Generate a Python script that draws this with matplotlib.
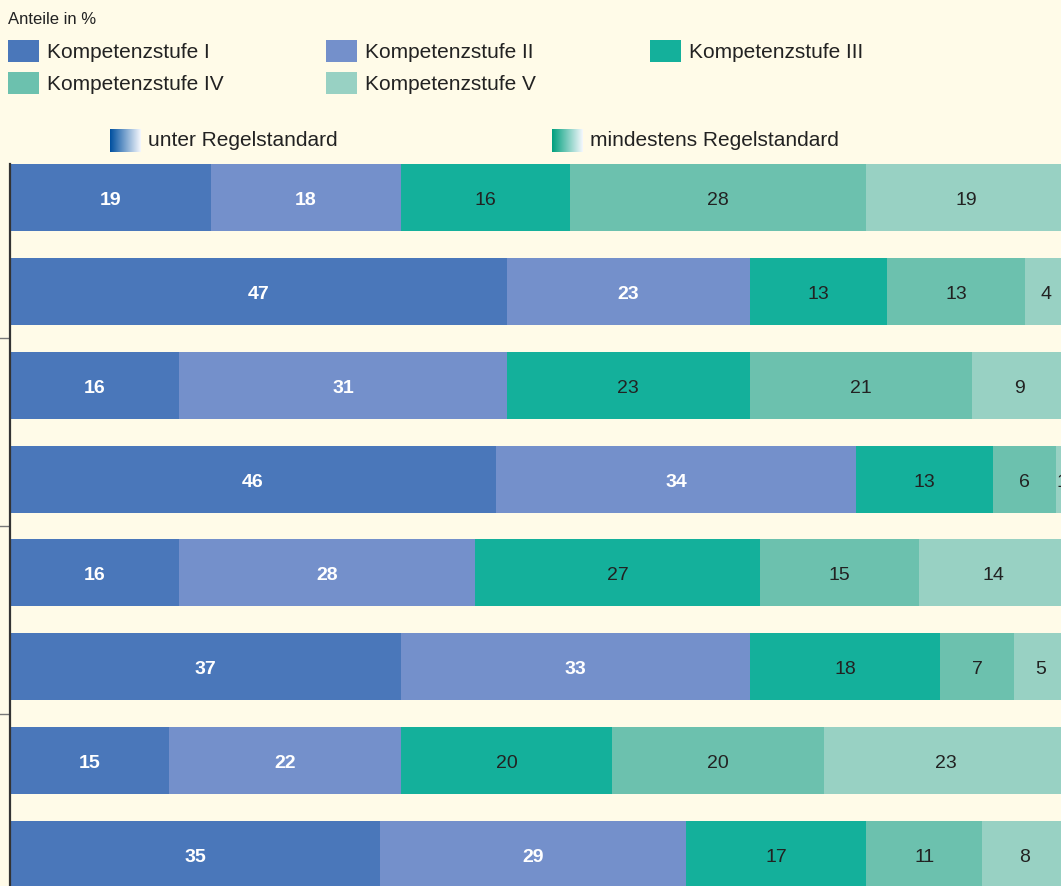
import numpy as np
import matplotlib.pyplot as plt
from matplotlib.patches import Rectangle

plt.rcParams['font.family'] = ['Liberation Sans', 'DejaVu Sans']

# Daten (Anteile in %), von oben nach unten
stufen = ['Kompetenzstufe I', 'Kompetenzstufe II', 'Kompetenzstufe III',
          'Kompetenzstufe IV', 'Kompetenzstufe V']
stufe_1 = [19, 47, 16, 46, 16, 37, 15, 35]
stufe_2 = [18, 23, 31, 34, 28, 33, 22, 29]
stufe_3 = [16, 13, 23, 13, 27, 18, 20, 17]
stufe_4 = [28, 13, 21, 6, 15, 7, 20, 11]
stufe_5 = [19, 4, 9, 1, 14, 5, 23, 8]

farben = ['#4a77ba', '#7490cb', '#14b09b', '#6cc1ae', '#98d1c3']
bg = '#fffbe8'

W, H = 1061, 887
fig = plt.figure(figsize=(W / 100, H / 100), dpi=100, facecolor=bg)

# Achse: x von 10 bis 1067 px, y von 165 bis 889 px
x0, x1 = 10, 1067
y0, y1 = 165, 889
ax = fig.add_axes([x0 / W, 1 - y1 / H, (x1 - x0) / W, (y1 - y0) / H])
ax.set_facecolor(bg)

werte = [stufe_1, stufe_2, stufe_3, stufe_4, stufe_5]
n = len(stufe_1)
y = np.arange(n)
hoehe = 0.715
links = np.zeros(n)
for i, (serie, farbe) in enumerate(zip(werte, farben)):
    serie = np.array(serie)
    ax.barh(y, serie, left=links, height=hoehe, color=farbe, linewidth=0)
    for yi, l, v in zip(y, links, serie):
        if i < 2:
            ax.text(l + v / 2, yi, str(v), ha='center', va='center_baseline',
                    color='white', fontsize=14, fontweight='bold', clip_on=False)
        else:
            ax.text(l + v / 2, yi, str(v), ha='center', va='center_baseline',
                    color='#222222', fontsize=14, clip_on=False)
    links += serie

ax.set_xlim(0, 100)
ax.set_ylim(n - 1 + hoehe / 2, -hoehe / 2)
for s in ['top', 'right', 'bottom']:
    ax.spines[s].set_visible(False)
ax.spines['left'].set_color('#333333')
ax.spines['left'].set_linewidth(1.6)
ax.set_xticks([])
ax.set_yticks([1.5, 3.5, 5.5])
ax.set_yticklabels([])
ax.tick_params(axis='y', length=10, width=1, color='#777777', direction='out')

# Legende
fig.text(8 / W, 1 - 19 / H, 'Anteile in %', fontsize=12, color='#222222',
         va='center', ha='left')

spalten = [8, 326, 650]
zeilen = [52, 84]
for k, (name, farbe) in enumerate(zip(stufen, farben)):
    sx = spalten[k % 3]
    sy = zeilen[k // 3]
    fig.patches.append(Rectangle((sx / W, 1 - (sy + 11) / H), 31 / W, 22 / H,
                                 transform=fig.transFigure, facecolor=farbe,
                                 edgecolor='none'))
    fig.text((sx + 39) / W, 1 - sy / H, name, fontsize=15, color='#222222',
             va='center', ha='left')

# Verlaufs-Legende
def verlauf(x, yc, c_start, text):
    grad = np.linspace(0, 1, 64).reshape(1, -1)
    c0 = np.array(plt.matplotlib.colors.to_rgb(c_start))
    c1 = np.array([0.96, 0.97, 0.99])
    img = c0[None, None, :] * (1 - grad[..., None]) + c1[None, None, :] * grad[..., None]
    gax = fig.add_axes([x / W, 1 - (yc + 11.5) / H, 31 / W, 23 / H])
    gax.imshow(img, aspect='auto')
    gax.axis('off')
    fig.text((x + 38) / W, 1 - yc / H, text, fontsize=15, color='#222222',
             va='center', ha='left')

verlauf(110, 141, '#0050a0', 'unter Regelstandard')
verlauf(552, 141, '#00a07e', 'mindestens Regelstandard')

fig.savefig('out.png', dpi=100, facecolor=bg)
